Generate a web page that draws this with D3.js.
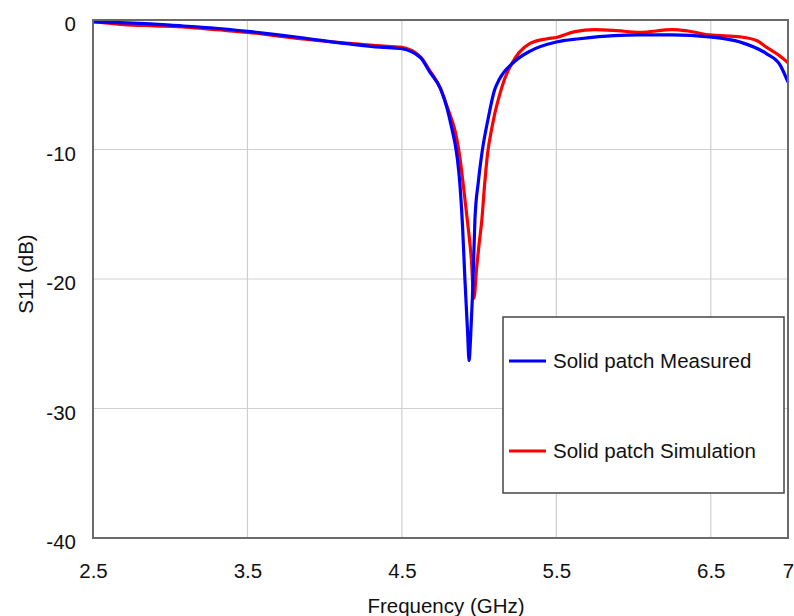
<!DOCTYPE html>
<html>
<head>
<meta charset="utf-8">
<script src="https://cdn.jsdelivr.net/npm/d3@7"></script>
<style>
  body { margin: 0; background: #fff; }
  text { font-family: "Liberation Sans", Arial, sans-serif; fill: #111; }
</style>
</head>
<body>
<svg id="chart" width="794" height="616"></svg>
<script>
// frequency (GHz) / S11 (dB)
var measuredFreq = [2.5, 2.87, 3.0, 3.26, 3.52, 3.84, 4.16, 4.36, 4.49, 4.62, 4.68, 4.75, 4.79, 4.82, 4.845, 4.86, 4.875, 4.893, 4.908, 4.925, 4.935, 4.945, 4.958, 4.973, 4.995, 5.018, 5.057, 5.1, 5.13, 5.22, 5.33, 5.5, 5.65, 5.87, 6.04, 6.25, 6.49, 6.69, 6.86, 6.95, 7.0];
var measuredS11 = [-0.15, -0.3, -0.4, -0.6, -0.9, -1.35, -1.85, -2.1, -2.2, -2.9, -4.0, -5.3, -6.7, -8.2, -9.6, -10.8, -12.6, -16.0, -20.0, -24.0, -26.3, -24.5, -21.0, -15.4, -12.5, -10.3, -7.7, -5.4, -4.6, -3.3, -2.4, -1.7, -1.45, -1.2, -1.15, -1.15, -1.3, -1.7, -2.6, -3.5, -4.8];

var simFreq = [2.5, 2.7, 2.9, 3.1, 3.3, 3.5, 3.84, 4.16, 4.36, 4.49, 4.62, 4.68, 4.75, 4.79, 4.82, 4.845, 4.865, 4.88, 4.9, 4.927, 4.95, 4.966, 4.985, 5.0, 5.018, 5.035, 5.055, 5.08, 5.1, 5.13, 5.17, 5.22, 5.26, 5.33, 5.44, 5.5, 5.62, 5.75, 5.87, 6.04, 6.25, 6.35, 6.49, 6.69, 6.8, 6.86, 6.95, 7.0];
var simS11 = [-0.1, -0.35, -0.45, -0.55, -0.75, -0.95, -1.45, -1.8, -2.0, -2.1, -2.85, -3.9, -5.3, -6.6, -7.6, -8.6, -9.8, -11.0, -13.0, -15.8, -18.5, -21.5, -19.0, -17.3, -15.4, -12.8, -10.3, -8.5, -7.3, -5.9, -4.4, -3.2, -2.5, -1.8, -1.45, -1.35, -0.9, -0.75, -0.8, -0.95, -0.75, -0.85, -1.15, -1.3, -1.6, -2.1, -2.8, -3.3];

var xTicks = [2.5, 3.5, 4.5, 5.5, 6.5, 7];
var yTicks = [0, -10, -20, -30, -40];
var seriesNames = ['Solid patch Measured', 'Solid patch Simulation'];
var seriesColors = ['#0000ff', '#ff0000'];

var margin = {left: 93, top: 20, right: 6, bottom: 78};
var fontSize = 20.5;
var svg = d3.select('#chart');
var W = +svg.attr('width'), H = +svg.attr('height');
var pw = W - margin.left - margin.right, ph = H - margin.top - margin.bottom;

var x = d3.scaleLinear().domain([2.5, 7]).range([margin.left, margin.left + pw]);
var y = d3.scaleLinear().domain([-40, 0]).range([margin.top + ph, margin.top]);

// grid
var grid = svg.append('g').attr('stroke', '#cfcfcf').attr('stroke-width', 1.2);
grid.selectAll('line.vx')
	.data(xTicks.filter(function(d) { return d > 2.5 && d < 7; }))
	.enter().append('line')
	.attr('x1', function(d) { return x(d); }).attr('x2', function(d) { return x(d); })
	.attr('y1', y(0)).attr('y2', y(-40));
grid.selectAll('line.hy')
	.data(yTicks.filter(function(d) { return d < 0 && d > -40; }))
	.enter().append('line')
	.attr('x1', x(2.5)).attr('x2', x(7))
	.attr('y1', function(d) { return y(d); }).attr('y2', function(d) { return y(d); });

// axes (labels only, no tick marks)
var xAxis = svg.append('g')
	.attr('transform', 'translate(0,' + (y(-40) + 22) + ')')
	.call(d3.axisBottom(x).tickValues(xTicks).tickSize(0).tickFormat(d3.format('')));
var yAxis = svg.append('g')
	.attr('transform', 'translate(' + (x(2.5) - 14) + ',4)')
	.call(d3.axisLeft(y).tickValues(yTicks).tickSize(0).tickFormat(function(d) { return d === 0 ? '0' : '-' + Math.abs(d); }));
[xAxis, yAxis].forEach(function(a) {
	a.select('.domain').remove();
	a.selectAll('text').attr('font-size', fontSize).attr('fill', '#111')
		.style('font-family', '"Liberation Sans", Arial, sans-serif');
});

// curves
var line = d3.line()
	.x(function(d) { return x(d[0]); })
	.y(function(d) { return y(d[1]); })
	.curve(d3.curveMonotoneX);

var simData = d3.zip(simFreq, simS11);
var measData = d3.zip(measuredFreq, measuredS11);

svg.append('path').datum(simData)
	.attr('d', line).attr('fill', 'none')
	.attr('stroke', seriesColors[1]).attr('stroke-width', 3.2);
svg.append('path').datum(measData)
	.attr('d', line).attr('fill', 'none')
	.attr('stroke', seriesColors[0]).attr('stroke-width', 3.2);

// frame
svg.append('rect')
	.attr('x', x(2.5)).attr('y', y(0))
	.attr('width', x(7) - x(2.5)).attr('height', y(-40) - y(0))
	.attr('fill', 'none').attr('stroke', '#6a6a6a').attr('stroke-width', 2);

// axis titles
svg.append('text')
	.attr('x', 446).attr('y', 613)
	.attr('text-anchor', 'middle').attr('font-size', fontSize)
	.text('Frequency (GHz)');
svg.append('text')
	.attr('transform', 'translate(33,274) rotate(-90)')
	.attr('text-anchor', 'middle').attr('font-size', fontSize)
	.text('S11 (dB)');

// legend
var lg = svg.append('g').attr('transform', 'translate(503,317)');
lg.append('rect')
	.attr('width', 281).attr('height', 176)
	.attr('fill', '#fff').attr('stroke', '#444').attr('stroke-width', 1.5);
var items = lg.selectAll('g.item')
	.data(seriesNames)
	.enter().append('g')
	.attr('transform', function(d, i) { return 'translate(0,' + (44 + i * 90) + ')'; });
items.append('line')
	.attr('x1', 6).attr('x2', 43).attr('y1', 0).attr('y2', 0)
	.attr('stroke', function(d, i) { return seriesColors[i]; })
	.attr('stroke-width', 3);
items.append('text')
	.attr('x', 50).attr('y', 7)
	.attr('font-size', fontSize)
	.text(function(d) { return d; });
</script>
</body>
</html>
